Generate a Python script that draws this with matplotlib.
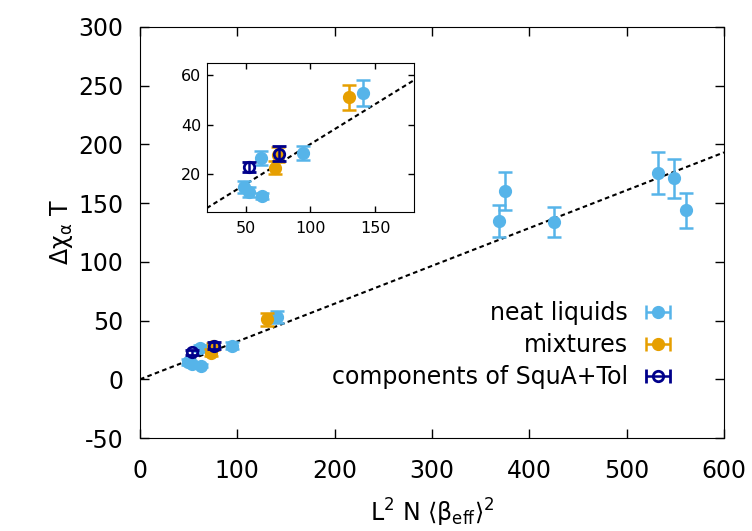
import numpy as np
import matplotlib
matplotlib.use("Agg")
import matplotlib.pyplot as plt

plt.rcParams['font.family'] = ['DejaVu Sans']
plt.rcParams['mathtext.default'] = 'regular'
plt.rcParams['axes.unicode_minus'] = False

# neat liquids
neat_x = [49, 53, 63, 62, 94, 141, 369, 375, 425, 532, 549, 561]
neat_y = [15.0, 13.0, 11.5, 26.7, 28.6, 52.9, 134.7, 160.3, 133.9, 175.9, 171.0, 143.8]
neat_err = [2.5, 2.0, 1.2, 2.7, 2.9, 5.2, 13.7, 16.0, 13.0, 17.7, 17.0, 15.0]

# mixtures
mix_x = [73, 75, 130]
mix_y = [22.7, 28.0, 51.0]
mix_err = [2.7, 3.0, 5.2]

# components of SquA+Tol
comp_x = [53, 76]
comp_y = [23.1, 28.4]
comp_err = [2.0, 3.0]

slope = 0.322  # fitted line through origin

c_neat = '#56b4e9'
c_mix = '#e69f00'
c_comp = '#00008b'

fig = plt.figure(figsize=(7.52, 5.31), dpi=100)
ax = fig.add_axes([0.1862, 0.1751, 0.7766, 0.7741])
ins = fig.add_axes([0.2749, 0.6013, 0.2756, 0.2806])


def draw(a, ms, lw, cap):
    xl = np.array(a.get_xlim())
    a.plot(xl, slope * xl, color='black', ls=(0, (2.2, 1.6)), lw=1.5, zorder=1)
    a.errorbar(neat_x, neat_y, yerr=neat_err, fmt='o', color=c_neat, ms=ms,
               elinewidth=lw, capsize=cap, capthick=lw, zorder=2)
    a.errorbar(mix_x, mix_y, yerr=mix_err, fmt='o', color=c_mix, ms=ms,
               elinewidth=lw, capsize=cap, capthick=lw, zorder=3)
    a.errorbar(comp_x, comp_y, yerr=comp_err, fmt='o', color=c_comp, ms=ms - 1,
               mfc='none', mew=2, elinewidth=lw, capsize=cap, capthick=lw, zorder=4)
    a.set_xlim(xl)


ax.set_xlim(0, 600)
ax.set_ylim(-50, 300)
draw(ax, 8.5, 1.8, 4.7)
ax.set_xticks(np.arange(0, 601, 100))
ax.set_yticks(np.arange(-50, 301, 50))
ax.tick_params(direction='in', length=6.5, width=1, labelsize=17,
               top=True, right=True)
ax.tick_params(axis='x', pad=15)
ax.tick_params(axis='y', pad=12)
ax.set_xlabel(r'L$^2$ N $\langle\beta_{eff}\rangle^2$', fontsize=17, labelpad=10)
ax.set_ylabel(r'$\Delta\chi_\alpha$ T', fontsize=17, labelpad=2)

# legend proxies with horizontal bars like the original key
h1 = ax.errorbar([np.nan], [np.nan], xerr=[1], fmt='o', color=c_neat, ms=8.5,
                 elinewidth=1.8, capsize=4.7, capthick=1.8)
h2 = ax.errorbar([np.nan], [np.nan], xerr=[1], fmt='o', color=c_mix, ms=8.5,
                 elinewidth=1.8, capsize=4.7, capthick=1.8)
h3 = ax.errorbar([np.nan], [np.nan], xerr=[1], fmt='o', color=c_comp, ms=7.5,
                 mfc='none', mew=2, elinewidth=1.8, capsize=4.7, capthick=1.8)
ax.legend([h1, h2, h3], ['neat liquids', 'mixtures', 'components of SquA+Tol'],
          loc='lower right', bbox_to_anchor=(0.967, 0.068), frameon=False,
          markerfirst=False, fontsize=17, handlelength=2.15, labelspacing=0.33,
          handletextpad=0.2)

ins.set_xlim(20, 180)
ins.set_ylim(5, 65)
draw(ins, 8.5, 1.8, 4.7)
ins.set_xticks([50, 100, 150])
ins.set_yticks([20, 40, 60])
ins.tick_params(direction='in', length=4.5, width=1, labelsize=11.5,
                top=True, right=True)
ins.tick_params(axis='x', pad=7)
ins.tick_params(axis='y', pad=4)

fig.savefig('out.png', dpi=100)
